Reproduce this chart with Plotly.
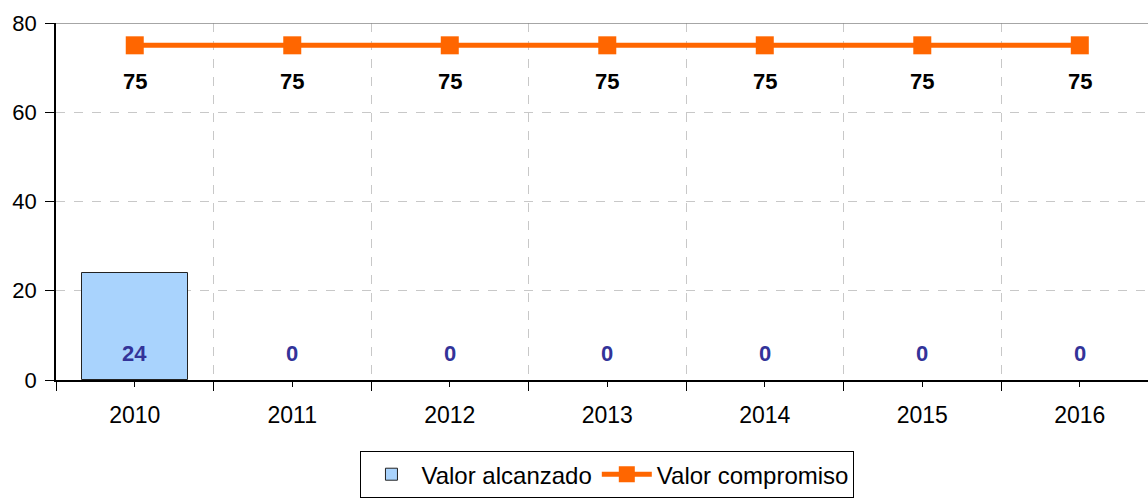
import plotly.graph_objects as go

# data
years = [2010, 2011, 2012, 2013, 2014, 2015, 2016]
valor_alcanzado = [24, 0, 0, 0, 0, 0, 0]
valor_compromiso = [75, 75, 75, 75, 75, 75, 75]

FONT = "Liberation Sans, Arial, sans-serif"
ORANGE = "#FF6600"
BAR_BLUE = "#A9D3FD"
LABEL_BLUE = "#333399"

fig = go.Figure()

fig.add_trace(go.Bar(
    x=years,
    y=valor_alcanzado,
    name="Valor alcanzado",
    width=0.67,
    marker=dict(color=BAR_BLUE,
                line=dict(color="#222222", width=[1 if v else 0 for v in valor_alcanzado])),
))

fig.add_trace(go.Scatter(
    x=years,
    y=valor_compromiso,
    name="Valor compromiso",
    mode="lines+markers",
    line=dict(color=ORANGE, width=5),
    marker=dict(symbol="square", size=18, color=ORANGE),
))

# value labels
for yr, v in zip(years, valor_alcanzado):
    fig.add_annotation(x=yr, y=0, text=f"<b>{v}</b>", showarrow=False,
                       yanchor="bottom", yshift=12,
                       font=dict(family=FONT, size=22, color=LABEL_BLUE))
for yr, v in zip(years, valor_compromiso):
    fig.add_annotation(x=yr, y=v, text=f"<b>{v}</b>", showarrow=False,
                       yanchor="middle", yshift=-36,
                       font=dict(family=FONT, size=22, color="black"))

# top border line
fig.add_shape(type="line", xref="paper", yref="y", x0=0, x1=1, y0=80, y1=80,
              line=dict(color="#888888", width=1.5))

fig.update_layout(
    width=1148,
    height=499,
    margin=dict(l=56, r=0, t=23, b=119),
    paper_bgcolor="white",
    plot_bgcolor="white",
    font=dict(family=FONT, size=23, color="black"),
    bargap=0,
    showlegend=True,
    legend=dict(
        orientation="h",
        x=0.505, xanchor="center",
        y=-0.265, yanchor="middle",
        bordercolor="black", borderwidth=1,
        font=dict(family=FONT, size=24, color="black"),
        itemwidth=50,
        traceorder="normal",
    ),
    xaxis=dict(
        range=[years[0] - 0.5, years[0] + 6.433],
        tickmode="array",
        tickvals=years,
        ticktext=[str(y) for y in years],
        ticks="outside", ticklen=5, tickcolor="black",
        ticklabelstandoff=9,
        showgrid=False,
        showline=True, linecolor="black", linewidth=1.5,
        zeroline=False,
        tickfont=dict(family=FONT, size=23),
        minor=dict(tick0=years[0] - 0.5, dtick=1, ticks="outside", ticklen=9,
                   tickcolor="black", showgrid=True, gridcolor="#C8C8C8",
                   griddash="dash", gridwidth=1),
    ),
    yaxis=dict(
        range=[0, 80],
        dtick=20,
        ticks="outside", ticklen=9, tickcolor="black",
        ticklabelstandoff=4,
        showgrid=True, gridcolor="#C8C8C8", griddash="dash", gridwidth=1,
        showline=True, linecolor="black", linewidth=1.5,
        zeroline=False,
        tickfont=dict(family=FONT, size=22),
    ),
)

fig.write_html("out.html", config={"displayModeBar": False},
               post_script="document.body.style.margin='0';document.body.style.overflow='hidden';")
